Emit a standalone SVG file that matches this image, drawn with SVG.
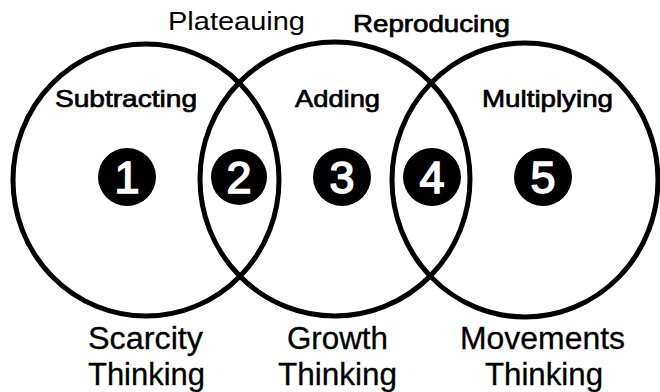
<svg xmlns="http://www.w3.org/2000/svg" width="660" height="392" viewBox="0 0 660 392">
  <style>
    .ring { fill: none; stroke: #000; stroke-width: 5; }
    .ball { fill: #000; }
    .num { fill: #fff; stroke: #fff; stroke-width: 1.6; font-family: "Liberation Sans", Arial, sans-serif; font-size: 45px; text-anchor: middle; }
    .top { fill: #000; font-family: "Liberation Sans", Arial, sans-serif; font-size: 25px; text-anchor: middle; }
    .stage { fill: #000; stroke: #000; stroke-width: 0.7; font-family: "Liberation Sans", Arial, sans-serif; font-size: 24px; text-anchor: middle; }
    .mind { fill: #000; stroke: #000; stroke-width: 0.3; font-family: "Liberation Sans", Arial, sans-serif; font-size: 31px; text-anchor: middle; }
  </style>
  <rect width="660" height="392" fill="#fff"/>

  <!-- three overlapping rings -->
  <g id="ring-scarcity">
    <ellipse class="ring" cx="146" cy="180" rx="133" ry="136"/>
  </g>
  <g id="ring-growth">
    <ellipse class="ring" cx="335" cy="179" rx="135" ry="137"/>
  </g>
  <g id="ring-movements">
    <ellipse class="ring" cx="525" cy="180" rx="133" ry="137"/>
  </g>

  <!-- labels over the overlaps -->
  <g id="label-plateauing">
    <text class="top" x="236.5" y="30" textLength="137" lengthAdjust="spacingAndGlyphs">Plateauing</text>
  </g>
  <g id="label-reproducing">
    <text class="stage" x="431.5" y="32" textLength="157" lengthAdjust="spacingAndGlyphs">Reproducing</text>
  </g>

  <!-- stage labels inside the rings -->
  <g id="label-subtracting">
    <text class="stage" x="126" y="107" textLength="142" lengthAdjust="spacingAndGlyphs">Subtracting</text>
  </g>
  <g id="label-adding">
    <text class="stage" x="337.5" y="107" textLength="85" lengthAdjust="spacingAndGlyphs">Adding</text>
  </g>
  <g id="label-multiplying">
    <text class="stage" x="547.5" y="107" textLength="131" lengthAdjust="spacingAndGlyphs">Multiplying</text>
  </g>

  <!-- numbered markers -->
  <g id="step-1">
    <circle class="ball" cx="127" cy="177" r="29"/>
    <text class="num" x="127" y="193">1</text>
  </g>
  <g id="step-2">
    <circle class="ball" cx="239" cy="177" r="28"/>
    <text class="num" x="239" y="193">2</text>
  </g>
  <g id="step-3">
    <circle class="ball" cx="342" cy="177" r="29"/>
    <text class="num" x="342" y="193">3</text>
  </g>
  <g id="step-4">
    <circle class="ball" cx="432" cy="177" r="29"/>
    <text class="num" x="432" y="193">4</text>
  </g>
  <g id="step-5">
    <circle class="ball" cx="543" cy="177" r="29"/>
    <text class="num" x="543" y="193">5</text>
  </g>

  <!-- captions under each ring -->
  <g id="caption-scarcity">
    <text class="mind" x="145.5" y="349" textLength="115" lengthAdjust="spacingAndGlyphs">Scarcity</text>
    <text class="mind" x="146.5" y="385" textLength="117" lengthAdjust="spacingAndGlyphs">Thinking</text>
  </g>
  <g id="caption-growth">
    <text class="mind" x="337.5" y="349" textLength="101" lengthAdjust="spacingAndGlyphs">Growth</text>
    <text class="mind" x="337.5" y="385" textLength="119" lengthAdjust="spacingAndGlyphs">Thinking</text>
  </g>
  <g id="caption-movements">
    <text class="mind" x="542.5" y="349" textLength="165" lengthAdjust="spacingAndGlyphs">Movements</text>
    <text class="mind" x="544" y="385" textLength="118" lengthAdjust="spacingAndGlyphs">Thinking</text>
  </g>
</svg>
